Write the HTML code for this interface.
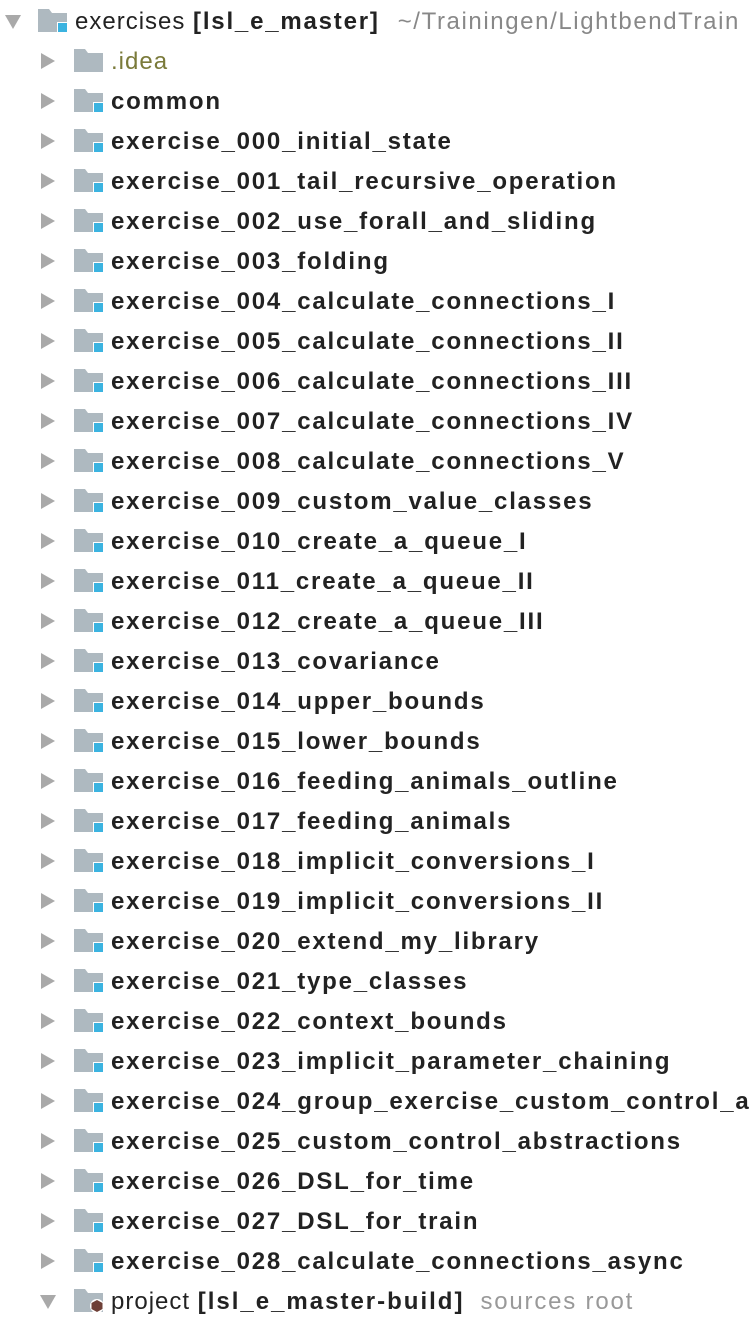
<!DOCTYPE html>
<html><head><meta charset="utf-8"><style>
body{margin:0;width:754px;height:1326px;background:#fff;overflow:hidden;position:relative;font-family:"Liberation Sans",sans-serif;}
.r{position:absolute;left:0;height:40px;width:754px;}
.arr{position:absolute;top:12px;width:0;height:0;border-top:8px solid transparent;border-bottom:8px solid transparent;border-left:14px solid #a9a9a9;}
.down{position:absolute;top:14px;width:0;height:0;border-left:8px solid transparent;border-right:8px solid transparent;border-top:14px solid #a9a9a9;}
.f{position:absolute;top:8px;width:29px;height:23px;}
.t{position:absolute;top:7px;font-size:24px;line-height:28px;white-space:nowrap;color:#222;letter-spacing:1.8px;}
.b{font-weight:bold;}
</style></head><body>
<svg width="0" height="0" style="position:absolute"><defs>
<g id="fd"><path d="M0 0H11L14 4H29V23H0Z" fill="#aeb9c0"/></g>
</defs></svg>

<div class="r" style="top:1px">
<div class="down" style="left:5px"></div>
<svg class="f" style="left:38px" width="30" height="24"><use href="#fd"/><rect x="19" y="13" width="11" height="11" fill="#fff"/><rect x="20" y="14" width="10" height="10" fill="#3bb3e0"/></svg>
<div class="t" style="left:75px;letter-spacing:1px">exercises <b style="letter-spacing:1.8px">[lsl_e_master]</b><span style="color:#888;margin-left:18px;letter-spacing:1.6px">~/Trainingen/LightbendTrain</span></div>
</div>

<div class="r" style="top:41px">
<div class="arr" style="left:41px"></div>
<svg class="f" style="left:74px" width="30" height="24"><use href="#fd"/></svg>
<div class="t" style="left:111px;color:#7a7a3a;letter-spacing:1px">.idea</div>
</div>

<div id="rows"></div>
<script>
var names=["common","exercise_000_initial_state","exercise_001_tail_recursive_operation","exercise_002_use_forall_and_sliding","exercise_003_folding","exercise_004_calculate_connections_I","exercise_005_calculate_connections_II","exercise_006_calculate_connections_III","exercise_007_calculate_connections_IV","exercise_008_calculate_connections_V","exercise_009_custom_value_classes","exercise_010_create_a_queue_I","exercise_011_create_a_queue_II","exercise_012_create_a_queue_III","exercise_013_covariance","exercise_014_upper_bounds","exercise_015_lower_bounds","exercise_016_feeding_animals_outline","exercise_017_feeding_animals","exercise_018_implicit_conversions_I","exercise_019_implicit_conversions_II","exercise_020_extend_my_library","exercise_021_type_classes","exercise_022_context_bounds","exercise_023_implicit_parameter_chaining","exercise_024_group_exercise_custom_control_a","exercise_025_custom_control_abstractions","exercise_026_DSL_for_time","exercise_027_DSL_for_train","exercise_028_calculate_connections_async"];
var h="";
names.forEach(function(n,i){
var top=81+i*40;
h+='<div class="r" style="top:'+top+'px"><div class="arr" style="left:41px"></div><svg class="f" style="left:74px" width="30" height="24"><use href="#fd"/><rect x="19" y="13" width="11" height="11" fill="#fff"/><rect x="20" y="14" width="10" height="10" fill="#3bb3e0"/></svg><div class="t b" style="left:111px">'+n+'</div></div>';
});
document.getElementById("rows").innerHTML=h;
</script>

<div class="r" style="top:1281px">
<div class="down" style="left:40px"></div>
<svg class="f" style="left:74px" width="30" height="24"><use href="#fd"/><circle cx="23" cy="17" r="7" fill="#fff"/><polygon points="23,11 28.5,14 28.5,20 23,23 17.5,20 17.5,14" fill="#6e3f37"/></svg>
<div class="t" style="left:111px;letter-spacing:1px">project <b style="letter-spacing:2px">[lsl_e_master-build]</b><span style="color:#999;margin-left:16px;letter-spacing:1.8px">sources root</span></div>
</div>
</body></html>
